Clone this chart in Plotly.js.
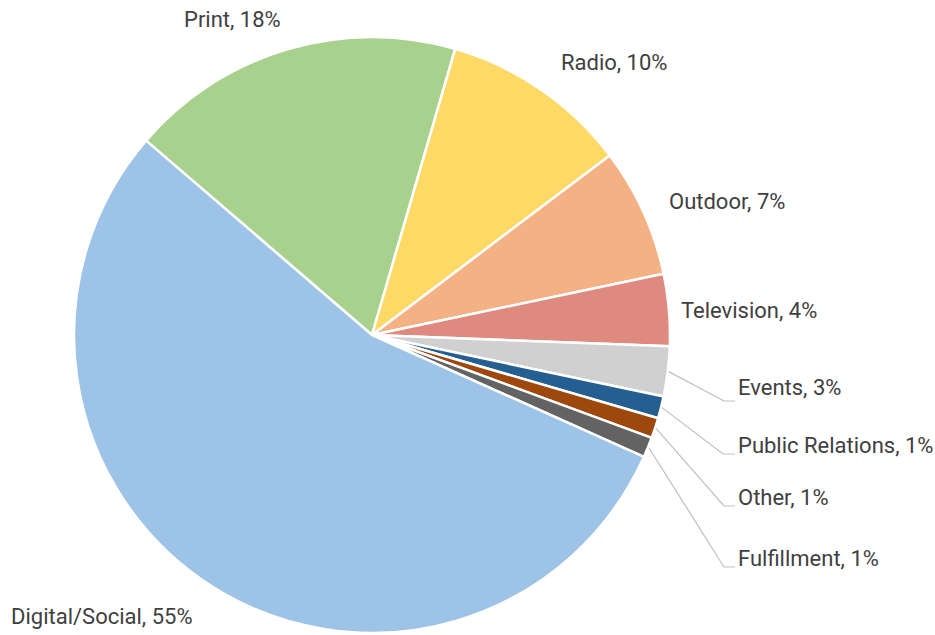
<!DOCTYPE html>
<html>
<head>
<meta charset="utf-8">
<script src="https://cdn.plot.ly/plotly-3.0.1.min.js"></script>
<style>html,body{margin:0;padding:0;background:#fff;}#chart{width:935px;height:635px;}</style>
</head>
<body>
<div id="chart"></div>
<script>
// ---- data ----
var categories = ["Print", "Radio", "Outdoor", "Television", "Events", "Public Relations", "Other", "Fulfillment", "Digital/Social"];
var shares = [18.2, 10.2, 7.0, 3.9, 2.7, 1.2, 1.1, 1.1, 54.6];
var sliceColors = ["#A9D18E", "#FFD966", "#F4B183", "#DE8A7F", "#D0D0D0", "#255E91", "#9E480E", "#636363", "#9DC3E6"];

// ---- layout config (pixels in the 935x635 page) ----
var W = 935, H = 635;
var pieBox = {left: 74, right: 670, top: 37, bottom: 633};
var startAngle = -49.3; // degrees clockwise from 12 o'clock
var labelLayout = [
  {x: 232, y: 20,  anchor: "center"},
  {x: 614, y: 63,  anchor: "center"},
  {x: 727, y: 202, anchor: "center"},
  {x: 749, y: 310, anchor: "center"},
  {x: 736, y: 387, anchor: "left", elbow: [724, 401], end: 735},
  {x: 736, y: 445, anchor: "left", elbow: [723, 454], end: 735},
  {x: 736, y: 497, anchor: "left", elbow: [724, 506], end: 735},
  {x: 736, y: 558, anchor: "left", elbow: [724, 567], end: 735},
  {x: 102, y: 616, anchor: "center"}
];

var cx = (pieBox.left + pieBox.right) / 2;
var cy = (pieBox.top + pieBox.bottom) / 2;
var R = (pieBox.bottom - pieBox.top) / 2;
function px(x) { return x / W; }
function py(y) { return 1 - y / H; }

var total = shares.reduce(function (a, b) { return a + b; }, 0);
var annotations = [], shapes = [];
var acc = 0;
for (var i = 0; i < categories.length; i++) {
  var pct = Math.round(shares[i] / total * 100);
  var mid = (startAngle + (acc + shares[i] / 2) / total * 360) * Math.PI / 180;
  acc += shares[i];
  var L = labelLayout[i];
  annotations.push({
    xref: "paper", yref: "paper", x: px(L.x), y: py(L.y),
    xanchor: L.anchor, yanchor: "middle", showarrow: false,
    text: categories[i] + ", " + pct + "%",
    font: {family: "Roboto, sans-serif", size: 22, color: "#404040"}
  });
  if (L.elbow) {
    var sx = cx + (R + 1) * Math.sin(mid), sy = cy - (R + 1) * Math.cos(mid);
    shapes.push({
      type: "path", xref: "paper", yref: "paper",
      path: "M " + px(sx) + "," + py(sy) + " L " + px(L.elbow[0]) + "," + py(L.elbow[1]) +
            " L " + px(L.end) + "," + py(L.elbow[1]),
      line: {color: "#BFBFBF", width: 1.2}
    });
  }
}

var trace = {
  type: "pie",
  labels: categories,
  values: shares,
  sort: false,
  direction: "clockwise",
  rotation: startAngle,
  textinfo: "none",
  hoverinfo: "label+percent",
  marker: {colors: sliceColors, line: {color: "#FFFFFF", width: 2.5}},
  domain: {x: [px(pieBox.left), px(pieBox.right)], y: [py(pieBox.bottom), py(pieBox.top)]}
};

var layout = {
  width: W, height: H,
  margin: {l: 0, r: 0, t: 0, b: 0},
  paper_bgcolor: "#FFFFFF",
  showlegend: false,
  annotations: annotations,
  shapes: shapes
};

Plotly.newPlot("chart", [trace], layout, {displayModeBar: false, staticPlot: true});
</script>
</body>
</html>
